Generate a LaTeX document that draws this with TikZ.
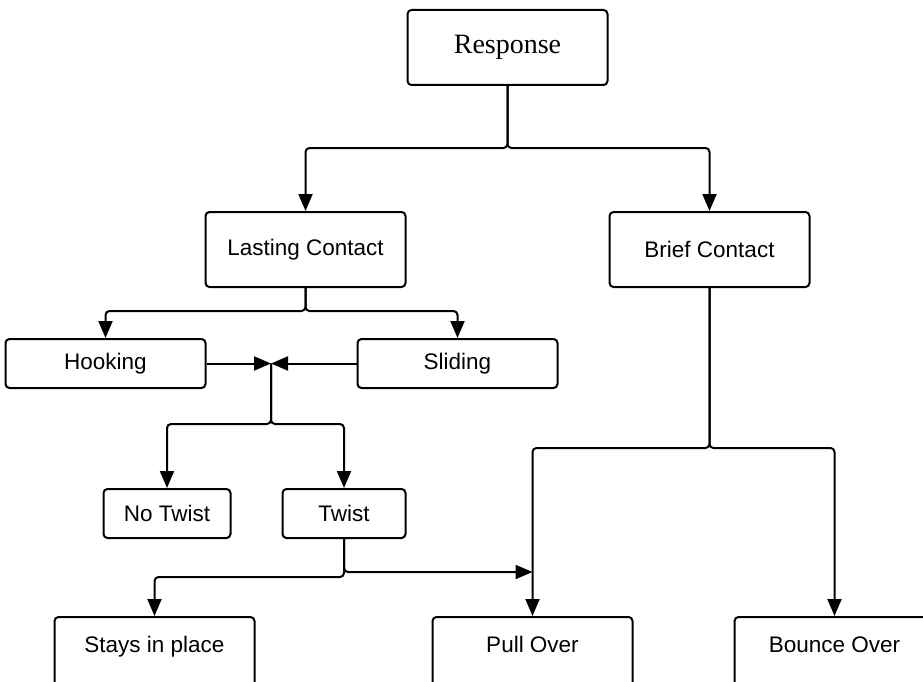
\documentclass[tikz,border=0pt]{standalone}
\usepackage{fontspec}
\usepackage{tikz}
\usetikzlibrary{arrows.meta, positioning, calc}
\newfontfamily\boxfont{Liberation Sans}
\newfontfamily\titlefont{Liberation Serif}

\begin{document}
\begin{tikzpicture}[
  x=1pt, y=1pt,
  box/.style={rectangle, draw=black, line width=2pt, rounded corners=4pt, align=center, fill=white, font={\fontsize{22.5}{27}\boxfont}, minimum width=200pt, minimum height=75pt, inner sep=0pt},
  flat/.style={box, minimum height=49pt},
  low/.style={box, text depth=20pt},
  title/.style={box, font={\fontsize{28}{32}\titlefont}},
  arrow/.style={-{Triangle[length=17pt, width=14pt]}, line width=2pt, rounded corners=4pt, color=black}
]
  \useasboundingbox (0,0) rectangle (923,-682);

  \node[title] (resp) at (507.5,-47.5) {Response};
  \node[box, below left=125pt and 0pt of resp] (lasting) {Lasting Contact};
  \node[box, below right=125pt and 0pt of resp] (brief) {Brief Contact};

  \node[flat, below left=50pt and -2pt of lasting] (hook) {Hooking};
  \node[flat, below right=50pt and -50pt of lasting] (slide) {Sliding};

  \node[flat, minimum width=127pt, below=99pt of hook, xshift=61.5pt] (notwist) {No Twist};
  \node[flat, minimum width=123pt, right=50pt of notwist] (twist) {Twist};

  \node[low, below left=77pt and 26pt of twist] (stays) {Stays in place};
  \node[low, below right=77pt and 25pt of twist] (pull) {Pull Over};
  \node[low, right=100pt of pull] (bounce) {Bounce Over};

  \coordinate (meet) at ($(hook.east)!0.43!(slide.west)$);
  \coordinate (tap) at ($(pull.north)+(0,44)$);

  \draw[arrow] (resp.south) -- ++(0,-62) -| (lasting.north);
  \draw[arrow] (resp.south) -- ++(0,-62) -| (brief.north);
  \draw[arrow] (lasting.south) -- ++(0,-23) -| (hook.north);
  \draw[arrow] (lasting.south) -- ++(0,-23) -| (slide.north);
  \draw[arrow] (hook.east) -- (meet);
  \draw[arrow] (slide.west) -- (meet);
  \draw[arrow] (meet) -- ++(0,-60.5) -| (notwist.north);
  \draw[arrow] (meet) -- ++(0,-60.5) -| (twist.north);
  \draw[arrow] (twist.south) -- ++(0,-38) -| (stays.north);
  \draw[arrow] (twist.south) |- (tap);
  \draw[arrow] (brief.south) -- ++(0,-160) -| (pull.north);
  \draw[arrow] (brief.south) -- ++(0,-160) -| (bounce.north);
\end{tikzpicture}
\end{document}
